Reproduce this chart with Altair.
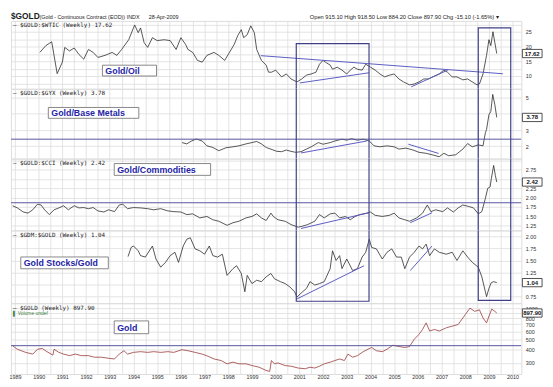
import altair as alt
import pandas as pd

# ---------------- data ----------------
YEARS_OIL = [1990.05,1990.3,1990.55,1990.78,1991.0,1991.1,1991.3,1991.5,1991.7,1991.9,
             1992.1,1992.3,1992.5,1992.8,1993.1,1993.3,1993.5,1993.8,1994.0,1994.05,
             1994.2,1994.3,1994.45,1994.6,1994.8,1995.0,1995.3,1995.55,1995.8,1996.0,
             1996.2,1996.3,1996.5,1996.7,1996.9,1997.1,1997.4,1997.6,1997.85,1998.05,
             1998.25,1998.4,1998.55,1998.65,1998.8,1998.95,1999.1,1999.2,1999.4,1999.6,
             1999.7,1999.83,2000.0,2000.25,2000.45,2000.65,2000.9,2001.1,2001.3,2001.5,
             2001.7,2001.85,2002.0,2002.1,2002.3,2002.4,2002.6,2002.8,2003.0,2003.15,
             2003.3,2003.45,2003.65,2003.8,2004.0,2004.2,2004.4,2004.6,2004.8,2005.0,
             2005.2,2005.4,2005.65,2005.85,2006.05,2006.25,2006.45,2006.7,2006.9,2007.1,
             2007.25,2007.45,2007.65,2007.9,2008.1,2008.3,2008.5,2008.6,2008.75,2008.9,
             2009.0,2009.08,2009.17,2009.25,2009.33]
GOLD_OIL = [18.0,20.3,21.6,10.8,14.7,19.7,18.5,19.5,17.3,15.7,
            19.0,18.0,16.3,17.0,18.0,17.0,19.0,22.3,26.3,27.3,
            24.7,26.3,21.3,19.7,23.0,22.0,22.3,22.0,19.0,23.0,
            20.7,19.0,18.0,15.3,14.7,17.0,18.0,17.0,15.3,18.0,
            20.7,23.7,25.7,23.0,24.0,27.0,24.7,19.0,15.3,13.7,
            11.3,11.3,12.0,9.7,10.7,9.0,8.0,9.0,10.3,10.7,
            11.3,14.0,15.3,14.7,13.7,12.3,13.0,12.0,10.7,12.0,
            13.0,12.3,12.0,14.0,13.0,12.0,10.7,9.7,10.3,10.7,
            9.0,8.0,7.0,7.3,8.0,9.0,9.0,10.0,10.7,12.0,
            11.3,9.7,9.7,8.7,9.0,8.0,7.0,7.3,10.7,17.0,
            22.3,20.3,25.0,21.3,17.62]

YEARS_GYX = [1996.05,1996.25,1996.45,1996.65,1996.9,1997.1,1997.35,1997.6,1997.9,1998.2,
             1998.45,1998.75,1999.0,1999.2,1999.4,1999.6,1999.85,2000.05,2000.25,2000.45,
             2000.65,2000.85,2001.07,2001.3,2001.5,2001.8,2002.0,2002.3,2002.5,2002.8,
             2003.0,2003.2,2003.45,2003.7,2003.95,2004.15,2004.4,2004.7,2005.0,2005.2,
             2005.5,2005.8,2006.05,2006.35,2006.6,2006.9,2007.1,2007.3,2007.6,2007.9,
             2008.1,2008.3,2008.55,2008.75,2008.85,2008.9,2009.0,2009.08,2009.16,2009.25,
             2009.33]
GOLD_GYX = [2.23,2.15,2.33,2.45,2.33,2.03,1.93,1.73,1.91,1.97,
            2.03,2.15,2.23,2.30,2.15,1.93,1.80,1.69,1.67,1.77,
            1.69,1.63,1.67,1.83,1.97,2.23,2.13,2.23,2.33,2.44,
            2.38,2.47,2.38,2.44,2.33,2.03,1.97,2.03,1.97,1.83,
            1.89,1.77,1.63,1.57,1.48,1.36,1.57,1.42,1.48,1.83,
            2.17,1.97,2.09,2.03,2.84,3.04,3.95,4.15,5.20,4.56,
            3.78]

YEARS_CCI = [1988.9,1989.1,1989.35,1989.55,1989.75,1989.95,1990.1,1990.25,1990.45,1990.65,
             1990.85,1991.05,1991.25,1991.5,1991.7,1991.9,1992.1,1992.3,1992.5,1992.75,
             1992.95,1993.2,1993.4,1993.55,1993.75,1994.0,1994.3,1994.6,1994.85,1995.15,
             1995.45,1995.7,1996.0,1996.25,1996.5,1996.8,1997.1,1997.35,1997.6,1997.95,
             1998.2,1998.45,1998.75,1999.0,1999.2,1999.4,1999.6,1999.8,1999.9,2000.1,
             2000.4,2000.65,2000.95,2001.15,2001.35,2001.65,2001.85,2002.05,2002.3,2002.5,
             2002.7,2002.95,2003.15,2003.35,2003.55,2003.85,2004.0,2004.2,2004.5,2004.8,
             2005.0,2005.2,2005.45,2005.65,2005.95,2006.2,2006.4,2006.55,2006.75,2007.05,
             2007.25,2007.5,2007.7,2007.9,2008.15,2008.35,2008.55,2008.7,2008.85,2008.95,
             2009.05,2009.1,2009.2,2009.27,2009.33]
GOLD_CCI = [1.78,1.72,1.61,1.58,1.67,1.82,1.80,1.67,1.54,1.67,
            1.72,1.78,1.67,1.78,1.72,1.73,1.70,1.73,1.64,1.61,
            1.67,1.62,1.80,1.82,1.70,1.73,1.72,1.70,1.67,1.70,
            1.64,1.62,1.61,1.54,1.56,1.45,1.49,1.40,1.36,1.25,
            1.32,1.36,1.45,1.49,1.56,1.45,1.38,1.58,1.49,1.40,
            1.36,1.27,1.20,1.23,1.27,1.36,1.54,1.45,1.56,1.58,
            1.45,1.49,1.40,1.49,1.54,1.58,1.61,1.52,1.49,1.52,
            1.58,1.45,1.40,1.36,1.45,1.58,1.80,1.62,1.67,1.62,
            1.72,1.61,1.72,1.80,1.76,1.72,1.56,1.62,1.98,2.25,
            2.29,2.51,2.87,2.60,2.42]

YEARS_GDM = [1993.77,1993.9,1994.0,1994.2,1994.3,1994.5,1994.8,1994.95,1995.15,1995.35,
             1995.55,1995.75,1995.9,1996.1,1996.25,1996.4,1996.6,1996.8,1997.0,1997.2,
             1997.35,1997.55,1997.75,1997.95,1998.2,1998.35,1998.55,1998.7,1998.8,1999.0,
             1999.2,1999.4,1999.6,1999.8,1999.95,2000.2,2000.4,2000.6,2000.8,2000.9,
             2001.07,2001.3,2001.45,2001.65,2001.85,2002.05,2002.3,2002.4,2002.55,2002.7,
             2002.8,2003.0,2003.25,2003.45,2003.65,2003.8,2003.95,2004.05,2004.25,2004.5,
             2004.7,2004.9,2005.1,2005.3,2005.45,2005.65,2005.85,2006.05,2006.2,2006.35,
             2006.5,2006.7,2006.9,2007.2,2007.45,2007.65,2007.9,2008.1,2008.3,2008.55,
             2008.7,2008.85,2008.9,2009.0,2009.1,2009.2,2009.33]
GDM_GOLD = [1.58,1.77,1.80,1.70,1.60,1.57,1.80,1.53,1.36,1.46,
            1.60,1.67,1.46,1.80,1.94,1.97,1.74,1.70,1.63,1.80,
            1.60,1.57,1.63,1.19,1.33,1.39,1.23,0.85,1.19,1.02,
            1.09,1.06,1.16,1.23,1.12,1.06,1.02,0.95,0.85,0.74,
            0.82,0.92,1.06,0.99,1.02,1.06,1.33,1.70,1.50,1.60,
            1.33,1.53,1.29,1.33,1.57,1.67,1.94,1.77,1.74,1.53,
            1.67,1.74,1.57,1.57,1.33,1.57,1.67,1.80,1.74,1.84,
            1.60,1.74,1.67,1.63,1.67,1.50,1.70,1.57,1.46,1.36,
            1.16,0.85,0.75,0.92,1.04,1.06,1.04]

YEARS_GOLD = [1988.9,1989.1,1989.45,1989.75,1989.95,1990.15,1990.35,1990.6,1990.65,1990.85,
              1991.05,1991.3,1991.55,1991.8,1992.1,1992.35,1992.65,1992.95,1993.2,1993.4,
              1993.6,1993.75,1994.0,1994.3,1994.6,1994.85,1995.15,1995.45,1995.7,1996.05,
              1996.3,1996.6,1996.9,1997.15,1997.4,1997.7,1997.95,1998.2,1998.45,1998.75,
              1999.0,1999.3,1999.6,1999.75,1999.82,1999.95,2000.1,2000.4,2000.65,2000.95,
              2001.25,2001.45,2001.65,2001.85,2002.05,2002.3,2002.5,2002.7,2002.9,2003.05,
              2003.25,2003.45,2003.65,2003.85,2004.05,2004.25,2004.5,2004.7,2004.95,2005.2,
              2005.45,2005.65,2005.85,2006.05,2006.2,2006.35,2006.5,2006.7,2006.9,2007.2,
              2007.45,2007.7,2008.0,2008.2,2008.4,2008.6,2008.75,2008.9,2009.0,2009.12,
              2009.25,2009.33]
GOLD = [437,405,378,364,405,412,384,356,405,378,
        364,352,364,352,352,340,340,332,327,364,
        392,364,378,384,378,384,378,384,378,401,
        392,378,364,347,327,316,294,305,294,294,
        283,273,254,249,316,294,300,283,279,268,
        264,273,268,279,294,305,316,327,316,364,
        340,352,378,401,421,392,384,405,443,430,
        421,430,505,562,626,723,604,626,604,649,
        673,697,866,1000,931,963,806,723,836,979,
        931,897.9]

# annotation boxes (year spans) and their ends in the first / fourth panel
BOX_LEFT = [2000.87, 2008.55]
BOX_RIGHT = [2003.94, 2009.92]
BOX_TOP_OIL = [21.0, 26.3]
BOX_BOTTOM_GDM = [0.654, 0.67]

# trendlines: (year0, value0, year1, value1)
TREND_OIL = [(1999.37, 16.9, 2009.59, 10.77), (2001.03, 7.67, 2003.94, 11.1), (2005.72, 6.33, 2007.26, 12.0)]
TREND_GYX = [(2001.07, 1.59, 2003.85, 2.33), (2005.6, 2.13, 2006.88, 1.56)]
TREND_CCI = [(2001.07, 1.165, 2003.94, 1.59), (2005.68, 1.32, 2006.6, 1.59)]
TREND_GDM = [(2000.87, 0.695, 2003.73, 1.39), (2005.68, 1.29, 2006.6, 1.80)]
HLINE_GYX = [2.44]
HLINE_CCI = [1.86]
HLINE_GOLD = [438]

for a, b in [(YEARS_OIL, GOLD_OIL), (YEARS_GYX, GOLD_GYX), (YEARS_CCI, GOLD_CCI),
             (YEARS_GDM, GDM_GOLD), (YEARS_GOLD, GOLD)]:
    assert len(a) == len(b), (len(a), len(b))

# ---------------- styling ----------------
W = 519
X_DOMAIN = [1988.83, 2010.37]
GRID_X = [1989 + 0.5 * i for i in range(43)]
LINE_COLOR = "#2b2b2b"
GOLD_COLOR = "#9a3a3a"
TREND_COLOR = "#5b5bc2"
BOX_COLOR = "#404088"
HLINE_COLOR = "#55559e"
GRID_COLOR = "#dcdcdc"
FONT = "Liberation Sans"
BOX_PATH = "M-1,-0.42L1,-0.42L1,0.42L-1,0.42Z"
dummy = pd.DataFrame({"a": [0]})


def xaxis(show):
    kw = dict(values=GRID_X, ticks=False, domain=False, grid=True, gridColor=GRID_COLOR,
              gridWidth=0.8, title=None, labelOverlap=False, labelFlush=False)
    if show:
        kw.update(labels=True, labelExpr="datum.value % 1 == 0 ? '' + datum.value : ''",
                  labelFontSize=5.5, labelFont=FONT, labelColor="#333", labelPadding=1)
    else:
        kw.update(labels=False)
    return alt.Axis(**kw)


def yaxis(values, fmt, expr=None):
    kw = dict(orient="right", values=values, format=fmt, ticks=False, domain=False, grid=True,
              gridColor=GRID_COLOR, gridWidth=0.8, title=None, labelFontSize=5.5, labelFont=FONT,
              labelColor="#333", labelPadding=4, labelOverlap=False, labelFlush=False)
    if expr:
        kw["labelExpr"] = expr
    return alt.Axis(**kw)


def panel(years, vals, yscale, yax, height, show_x, color, label, tag, trends=(), hlines=(),
          boxes=None, last_txt="", extra=None):
    xs = alt.Scale(domain=X_DOMAIN, nice=False, zero=False)
    xa = xaxis(show_x)

    def X(f):
        return alt.X(f, type="quantitative", scale=xs, axis=xa)

    def Y(f):
        return alt.Y(f, type="quantitative", scale=yscale, axis=yax)

    df = pd.DataFrame({"year": years, "value": vals})
    layers = [alt.Chart(df).mark_line(color=color, strokeWidth=0.8, clip=True)
              .encode(x=X("year"), y=Y("value"))]
    if hlines:
        hdf = pd.DataFrame({"v": list(hlines)})
        layers.append(alt.Chart(hdf).mark_rule(color=HLINE_COLOR, strokeWidth=1, clip=True)
                      .encode(y=Y("v")))
    if trends:
        tdf = pd.DataFrame(list(trends), columns=["x0", "y0", "x1", "y1"])
        layers.append(alt.Chart(tdf).mark_rule(color=TREND_COLOR, strokeWidth=1, clip=True)
                      .encode(x=X("x0"), x2="x1", y=Y("y0"), y2="y1"))
    if boxes is not None:
        bdf = pd.DataFrame(boxes, columns=["x0", "x1", "y0", "y1"])
        layers.append(alt.Chart(bdf).mark_rect(fillOpacity=0, stroke=BOX_COLOR, strokeWidth=1.2,
                                               clip=True)
                      .encode(x=X("x0"), x2="x1", y=Y("y0"), y2="y1"))
    # series label
    layers.append(alt.Chart(dummy).mark_text(text=label, align="left", baseline="middle",
                                             fontSize=6, font="DejaVu Sans Mono", color="#222")
                  .encode(x=alt.value(2), y=alt.value(4.5)))
    if extra:
        layers.append(alt.Chart(dummy).mark_text(text=extra, align="left", baseline="middle",
                                                 fontSize=5, font=FONT, color="#3c7d3c")
                      .encode(x=alt.value(2), y=alt.value(10)))
    # annotation tag
    tx0, tx1, ty0, ty1, ttxt = tag
    layers.append(alt.Chart(dummy).mark_rect(fill="white", stroke="#6a6a6a", strokeWidth=0.8)
                  .encode(x=alt.value(tx0), x2=alt.value(tx1), y=alt.value(ty0), y2=alt.value(ty1)))
    layers.append(alt.Chart(dummy).mark_text(text=ttxt, align="left", baseline="middle", fontSize=9,
                                             fontWeight="bold", font=FONT, color="#2424a6")
                  .encode(x=alt.value(tx0 + 3), y=alt.value((ty0 + ty1) / 2 + 0.5)))
    # last value box
    ldf = pd.DataFrame({"value": [vals[-1]], "txt": [last_txt]})
    layers.append(alt.Chart(ldf).mark_point(shape=BOX_PATH, size=400, filled=True, fill="white",
                                            stroke="#222", strokeWidth=0.8, opacity=1)
                  .encode(x=alt.value(W + 11), y=Y("value")))
    layers.append(alt.Chart(ldf).mark_text(fontSize=6, fontWeight="bold", font=FONT, color="#111")
                  .encode(x=alt.value(W + 11), y=Y("value"), text="txt:N"))
    return alt.layer(*layers).properties(width=W, height=height)


p1 = panel(YEARS_OIL, GOLD_OIL,
           alt.Scale(domain=[5.67, 28.67], nice=False, zero=False),
           yaxis([7.5, 10, 12.5, 15, 17.5, 20, 22.5, 25, 27.5], "~g",
                 "datum.value % 5 == 0 ? datum.label : ''"),
           69, False, LINE_COLOR, "\u2014 $GOLD:$WTIC (Weekly) 17.62",
           (93, 148, 45, 56, "Gold/Oil"), trends=TREND_OIL,
           boxes=[(BOX_LEFT[i], BOX_RIGHT[i], BOX_TOP_OIL[i], 0) for i in range(2)],
           last_txt="17.62")

p2 = panel(YEARS_GYX, GOLD_GYX,
           alt.Scale(domain=[1.242, 5.545], nice=False, zero=False),
           yaxis([2, 3, 4, 5], "d", "datum.value == 4 ? '' : datum.label"),
           71, False, LINE_COLOR, "\u2014 $GOLD:$GYX (Weekly) 3.78",
           (38, 130, 19, 30, "Gold/Base Metals"), trends=TREND_GYX, hlines=HLINE_GYX,
           boxes=[(BOX_LEFT[i], BOX_RIGHT[i], -10, 100) for i in range(2)],
           last_txt="3.78")

p3 = panel(YEARS_CCI, GOLD_CCI,
           alt.Scale(domain=[1.112, 3.053], nice=False, zero=False),
           yaxis([1.25, 1.5, 1.75, 2.0, 2.25, 2.5, 2.75, 3.0], ".2f",
                 "(datum.value < 2.9 && datum.value != 2.5) ? datum.label : ''"),
           73, False, LINE_COLOR, "\u2014 $GOLD:$CCI (Weekly) 2.42",
           (105, 203, 5, 17, "Gold/Commodities"), trends=TREND_CCI, hlines=HLINE_CCI,
           boxes=[(BOX_LEFT[i], BOX_RIGHT[i], -10, 100) for i in range(2)],
           last_txt="2.42")

p4 = panel(YEARS_GDM, GDM_GOLD,
           alt.Scale(domain=[0.613, 2.123], nice=False, zero=False),
           yaxis([0.75, 1.0, 1.25, 1.5, 1.75, 2.0], ".2f",
                 "datum.value == 1 ? '' : datum.label"),
           74, False, LINE_COLOR, "\u2014 $GDM:$GOLD (Weekly) 1.04",
           (10, 99, 27, 39, "Gold Stocks/Gold"), trends=TREND_GDM,
           boxes=[(BOX_LEFT[i], BOX_RIGHT[i], 10, BOX_BOTTOM_GDM[i]) for i in range(2)],
           last_txt="1.04")

p5 = panel(YEARS_GOLD, GOLD,
           alt.Scale(type="log", domain=[235, 1114], nice=False),
           yaxis([300, 400, 500, 600, 700, 800, 900, 1000], "d",
                 "datum.value == 900 ? '' : datum.label"),
           72, True, GOLD_COLOR, "\u2014 $GOLD (Weekly) 897.90",
           (105, 140, 18, 31, "Gold"), hlines=HLINE_GOLD,
           last_txt="897.90", extra="\u258c Volume undef")


def htext(txt, x, size, weight="normal", align="left", color="#222"):
    return (alt.Chart(dummy)
            .mark_text(text=txt, align=align, baseline="alphabetic", fontSize=size,
                       fontWeight=weight, font=FONT, color=color)
            .encode(x=alt.value(x), y=alt.value(8)))


header = alt.layer(
    htext("$GOLD", 0, 8.5, "bold"),
    htext("(Gold - Continuous Contract (EOD)) INDX", 29, 5.5),
    htext("28-Apr-2009", 140, 5.5),
    htext("Open 915.10  High 918.50  Low 884.20  Close 897.90  Chg -15.10 (-1.65%) \u25be",
          496, 5.8, align="right"),
).properties(width=W, height=10, view=alt.ViewBackground(strokeOpacity=0))

chart = (alt.vconcat(header, p1, p2, p3, p4, p5, spacing=0, padding=0, bounds="flush")
         .configure_view(stroke="#8a8a8a", strokeWidth=1)
         .configure(background="white"))

chart.save("out.html", embed_options={"renderer": "svg", "actions": False})
